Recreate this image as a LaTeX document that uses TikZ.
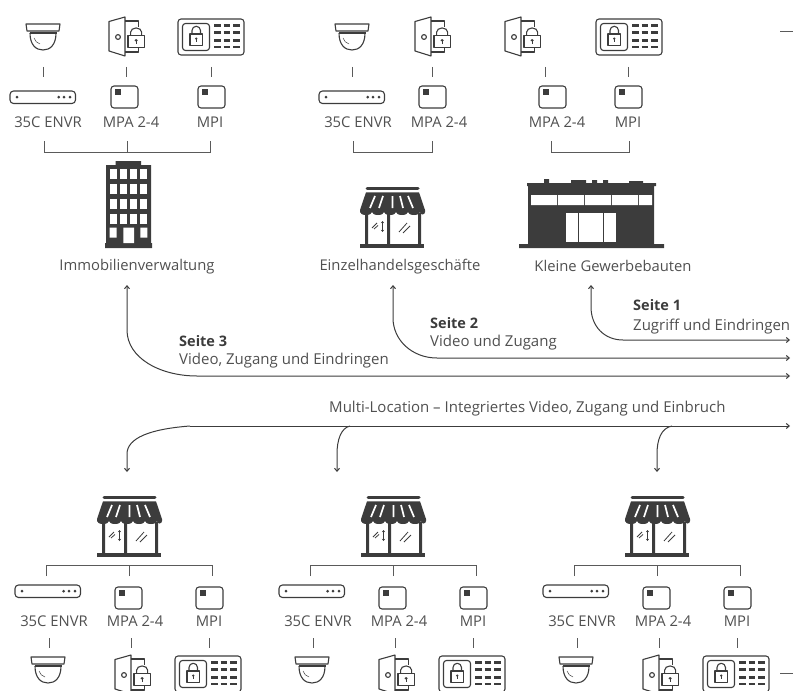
\documentclass[tikz,border=0pt]{standalone}
\usepackage{fontspec}
\setmainfont{Open Sans}
\usetikzlibrary{arrows.meta}
\definecolor{ink}{HTML}{3C3C3C}
\definecolor{wire}{HTML}{5A5A5A}
\definecolor{txt}{HTML}{505050}
\tikzset{
  link/.style={draw=wire,line width=0.8pt},
  flow/.style={draw=ink,line width=1pt,-{Straight Barb[length=3pt,width=5pt]}},
  flowboth/.style={draw=ink,line width=1pt,{Straight Barb[length=3pt,width=5pt]}-{Straight Barb[length=3pt,width=5pt]}},
  ico/.style={draw=ink,line width=1.1pt,line join=round},
  lab/.style={text=txt,font=\fontsize{14.8}{16}\selectfont,inner sep=0pt},
  nam/.style={text=txt,font=\fontsize{14.8}{16}\selectfont,inner sep=0pt},
  hd/.style={text=ink,font=\fontsize{14.5}{16}\selectfont\bfseries,inner sep=0pt,anchor=base west},
  sub/.style={text=txt,font=\fontsize{15}{16}\selectfont,inner sep=0pt,anchor=base west},
}
\newcommand{\iconCam}[2]{\begin{scope}[shift={(#1,#2)}]
 \draw[ico] (0,0)--(34,0)--(33,7)--(1,7)--cycle;
 \draw[ico] (3.5,9)--(30.5,9);
 \draw[ico] (4,9) .. controls (4,21) and (10,26) .. (17,26) .. controls (24,26) and (30,21) .. (30,9);
 \draw[draw=ink,line width=.5pt] (8,14) .. controls (9,17) and (11,19) .. (14,20);
\end{scope}}
\newcommand{\iconLock}[3]{\begin{scope}[shift={(#1,#2)},xscale=#3]
 \draw[ico,fill=white] (0,0) rectangle (12.5,11.5);
 \draw[ico] (2,0) -- (2,-3.5) arc[start angle=180,end angle=360,radius=4.25] -- (10.5,0);
 \fill[ink] (6.25,4.6) circle (1.3);
 \draw[ink,line width=.9pt] (6.25,4.6)--(6.25,8.4);
\end{scope}}
\newcommand{\iconDoor}[2]{\begin{scope}[shift={(#1,#2)}]
 \draw[ico] (16,4)--(29.3,4)--(29.3,10);
 \draw[ico] (16,35)--(29.3,35)--(29.3,30);
 \draw[ico] (0,4.5)--(16,0)--(16,39)--(0,34)--cycle;
 \draw[ico] (9,20) circle (2.4);
 \iconLock{19}{18.7}{1.3}
\end{scope}}
\newcommand{\iconPad}[2]{\begin{scope}[shift={(#1,#2)}]
 \draw[ico,rounded corners=3pt] (0,0) rectangle (66,36);
 \draw[ico,rounded corners=3pt] (4.5,4.5) rectangle (31.5,31.5);
 \iconLock{12}{15}{1}
 \foreach \yy in {6.5,13.5,21.5,28}{
  \draw[ink,line width=2.6pt] (36,\yy)--(43,\yy) (45.5,\yy)--(52,\yy) (55,\yy)--(62,\yy);}
\end{scope}}
\newcommand{\iconRec}[2]{\begin{scope}[shift={(#1,#2)}]
 \draw[ico,rounded corners=3.5pt] (0,0) rectangle (65.5,12.5);
 \fill[ink] (7,6.2) circle (1.5) (48.7,6.2) circle (1.5) (54,6.2) circle (1.5) (60,6.2) circle (1.5);
\end{scope}}
\newcommand{\iconBox}[2]{\begin{scope}[shift={(#1,#2)}]
 \draw[ico,rounded corners=3pt] (0,0) rectangle (27,22);
 \fill[ink] (3.5,3) rectangle (10,9);
\end{scope}}
\newcommand{\iconShop}[2]{\begin{scope}[shift={(#1,#2)}]
 \draw[ink,line width=3pt,line cap=round] (7,1.5)--(58,1.5);
 \fill[ink] (6,5.3)--(59,5.3)--(65,23)--(65,25)
   arc[start angle=0,end angle=180,radius=2.5,y radius=2.5]
   arc[start angle=0,end angle=180,radius=6,y radius=3]
   arc[start angle=0,end angle=180,radius=6,y radius=3]
   arc[start angle=0,end angle=180,radius=6,y radius=3]
   arc[start angle=0,end angle=180,radius=6,y radius=3]
   arc[start angle=0,end angle=180,radius=6,y radius=3]
   --(0,23)--cycle;
 \fill[ink] (5,26) rectangle (8,58) (27,26) rectangle (30,58) (58,26) rectangle (61,58);
 \fill[ink] (0,57) rectangle (64,61);
 \draw[white,line width=1.7pt] (10,21)--(15,9) (19,21)--(23,9) (32.5,21)--(32.5,9) (43,21)--(40,9) (53,21)--(48,9);
 \draw[ink,line width=.8pt] (12,41)--(17,36) (14,42)--(18,38.5);
 \draw[ink,line width=.8pt] (39,45)--(47,36) (43,46)--(50,39);
 \draw[ink,line width=.9pt,{Stealth[length=2.2pt,width=3.2pt]}-{Stealth[length=2.2pt,width=3.2pt]}] (22.5,34)--(22.5,45);
\end{scope}}
\newcommand{\tickLink}[3]{\coordinate (ta#1-#2) at (#1,#2); \coordinate (tb#1-#2) at (#1,#3); \draw[link] (ta#1-#2) -- (tb#1-#2);}
\newcommand{\bracketLink}[6]{% name, x1, xm, x2, prong end, bar
 \coordinate (#1l) at (#2,#5); \coordinate (#1m) at (#3,#5); \coordinate (#1r) at (#4,#5);
 \coordinate (#1L) at (#2,#6); \coordinate (#1M) at (#3,#6); \coordinate (#1R) at (#4,#6);
 \draw[link] (#1l)--(#1L)--(#1R)--(#1r); \draw[link] (#1m)--(#1M);}
\newcommand{\bracketPlain}[5]{% name, x1, x2, prong end, bar
 \coordinate (#1l) at (#2,#4); \coordinate (#1r) at (#3,#4);
 \coordinate (#1L) at (#2,#5); \coordinate (#1R) at (#3,#5);
 \draw[link] (#1l)--(#1L)--(#1R)--(#1r);}
\begin{document}
\begin{tikzpicture}[x=1pt,y=-1pt]
\useasboundingbox (0,0) rectangle (794,690);
% top row, group 1
\iconCam{26}{24}\iconDoor{109}{17}\iconPad{178}{19}
\tickLink{43}{67}{77}\tickLink{126}{67}{77}\tickLink{211}{67}{77}
\iconRec{10}{91}\iconBox{111}{86}\iconBox{198}{86}
\node[lab] (a1) at (48,122) {35C ENVR};
\node[lab] (a2) at (131,122) {MPA 2-4};
\node[lab] (a3) at (210,122) {MPI};
\bracketLink{ba}{44}{127}{210}{141}{152}
% group 2
\iconCam{335}{24}\iconDoor{415}{17}
\tickLink{352}{67}{77}\tickLink{432}{67}{77}
\iconRec{319}{91}\iconBox{419}{86}
\node[lab] (b1) at (358,122) {35C ENVR};
\node[lab] (b2) at (439,122) {MPA 2-4};
\bracketPlain{bb}{353}{432}{141}{152}
% group 3
\iconDoor{505}{17}\iconPad{596}{19}
\tickLink{545}{67}{77}\tickLink{628}{67}{77}
\iconBox{539}{86}\iconBox{615}{86}
\node[lab] (c1) at (557,122) {MPA 2-4};
\node[lab] (c2) at (628,122) {MPI};
\bracketPlain{bc}{551}{629}{141}{152}
% dash marks
\coordinate (d1) at (780,31); \coordinate (d2) at (793,31); \draw[link] (d1)--(d2);
\coordinate (d3) at (780,673); \coordinate (d4) at (793,673); \draw[link] (d3)--(d4);
% tower
\begin{scope}[shift={(105,161)}]
 \fill[ink] (10.7,0) rectangle (36,4) (1,4) rectangle (46,82) (0,82) rectangle (47,87);
 \foreach \yy in {8.3,23.3,38.3,52.7}{\foreach \xx in {4.7,15,25,35.3}{\fill[white] (\xx,\yy) rectangle ++(7,10);}}
 \fill[white] (4.7,66.7) rectangle ++(7,10) (35.3,66.7) rectangle ++(7,10) (18.3,66.7) rectangle (29,82);
\end{scope}
\iconShop{360}{187}
% commercial building
\begin{scope}[shift={(519,179)}]
 \fill[ink] (0,65) rectangle (145,69) (9,7) rectangle (135,65) (8,4) rectangle (137,7);
 \fill[ink] (25,0) rectangle (30,4) (52,1) rectangle (67,4) (73,1) rectangle (78,4) (84,1) rectangle (89,4) (110,2) rectangle (124,4);
 \fill[white] (12,16) rectangle (38,26) (39,16) rectangle (65,26) (66,16) rectangle (92,26) (93,16) rectangle (119,26) (120,16) rectangle (133,26);
 \fill[white] (47,34) rectangle (97,63);
 \draw[ink,line width=.8pt] (59,34)--(59,63) (84.3,34)--(84.3,63);
\end{scope}
\node[nam] (n1) at (137,267) {Immobilienverwaltung};
\node[nam] (n2) at (400,267) {Einzelhandelsgeschäfte};
\node[nam] (n3) at (613,266) {Kleine Gewerbebauten};
% flows up
\coordinate (e1) at (790,340); \coordinate (e2) at (790,358); \coordinate (e3) at (790,376);
\coordinate (u1) at (591,285); \coordinate (u2) at (393,285); \coordinate (u3) at (127,285);
\draw[flowboth] (u1) -- (591,307) .. controls (591,326) and (604,340) .. (623,340) -- (e1);
\draw[flowboth] (u2) -- (393,318) .. controls (393,340) and (412,358) .. (437,358) -- (e2);
\draw[flowboth] (u3) -- (127,330) .. controls (127,358) and (160,376) .. (197,376) -- (e3);
\node[hd] (s1) at (633,310) {Seite 1};
\node[sub] (s1b) at (633,330) {Zugriff und Eindringen};
\node[hd] (s2) at (430,328) {Seite 2};
\node[sub] (s2b) at (430,346) {Video und Zugang};
\node[hd] (s3) at (179,346) {Seite 3};
\node[sub] (s3b) at (179,364) {Video, Zugang und Eindringen};
\node[sub] (m) at (329,412) {Multi-Location – Integriertes Video, Zugang und Einbruch};
% multi-location
\coordinate (m0) at (190,426); \coordinate (me) at (790,426);
\coordinate (m2) at (350,426); \coordinate (m3) at (672,426);
\coordinate (q1) at (127,472); \coordinate (q2) at (337,472); \coordinate (q3) at (657,472);
\draw[flow] (m0) -- (me);
\draw[flow] (m0) .. controls (150,429) and (127,438) .. (127,454) -- (q1);
\draw[flow] (m2) .. controls (341,428) and (337,440) .. (337,454) -- (q2);
\draw[flow] (m3) .. controls (661,428) and (657,440) .. (657,454) -- (q3);
% bottom
\foreach \dx/\nm in {0/x,264/y,528/z}{
 \begin{scope}[xshift=\dx pt]
  \iconShop{97}{496}
  \bracketLink{\nm br}{46}{129}{212}{576}{565}
  \iconRec{15}{585}\iconBox{115}{587}\iconBox{196}{587}
  \node[lab] (\nm1) at (54,621) {35C ENVR};
  \node[lab] (\nm2) at (135,621) {MPA 2-4};
  \node[lab] (\nm3) at (209,621) {MPI};
  \tickLink{49}{638}{648}\tickLink{131}{638}{648}\tickLink{209}{638}{648}
  \iconCam{31}{657}\iconDoor{115}{655}\iconPad{175}{656}
 \end{scope}}
\end{tikzpicture}
\end{document}
